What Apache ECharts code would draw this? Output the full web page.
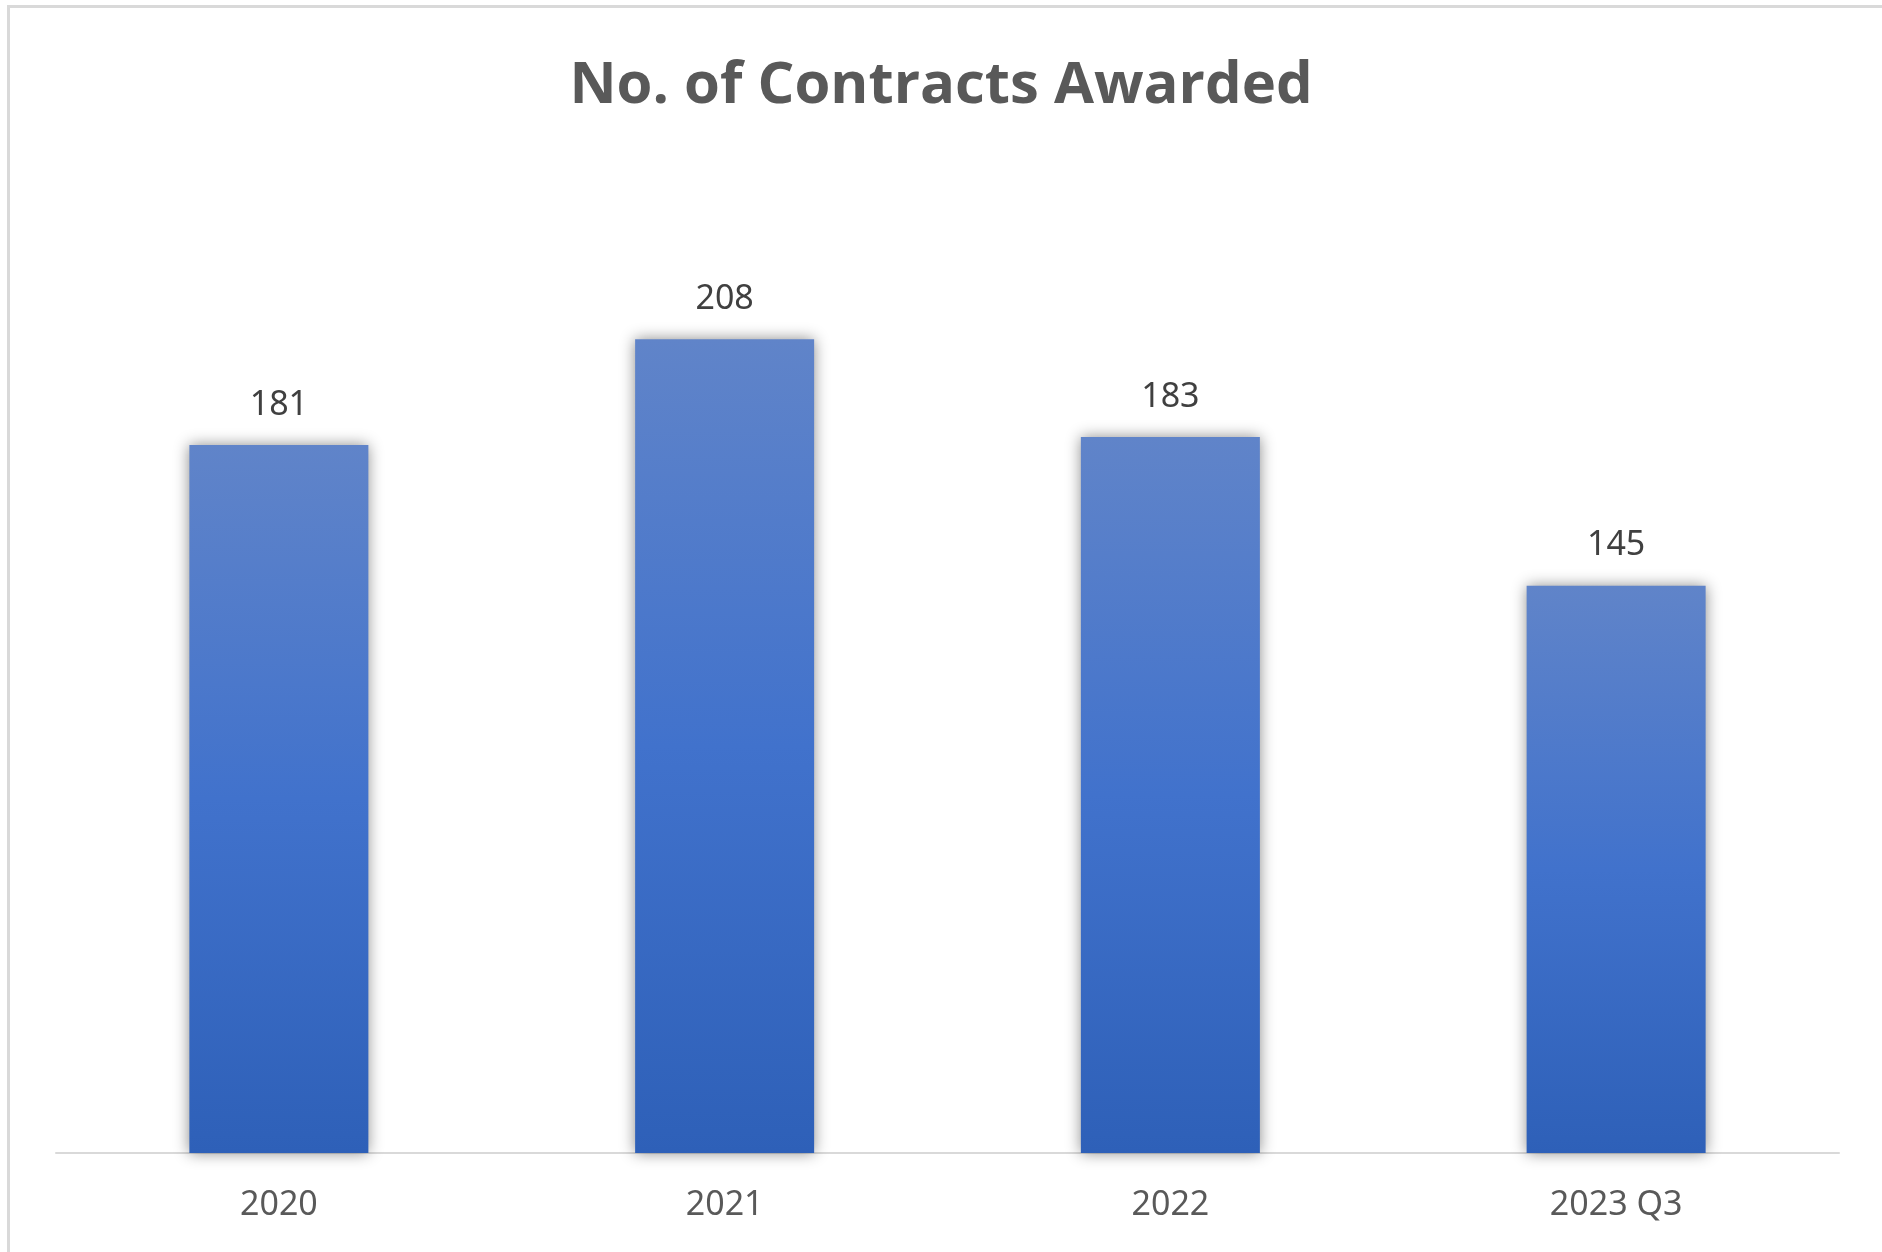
<!DOCTYPE html>
<html>
<head>
<meta charset="utf-8">
<script src="https://cdn.jsdelivr.net/npm/echarts@6/dist/echarts.min.js"></script>
<style>
html,body{margin:0;padding:0;background:#fff;}
#chart{width:1882px;height:1252px;}
</style>
</head>
<body>
<div id="chart"></div>
<script>
const categories = ['2020', '2021', '2022', '2023 Q3'];
const contracts = [181, 208, 183, 145];
const titleText = 'No. of Contracts Awarded';

const chart = echarts.init(document.getElementById('chart'), null, {renderer: 'canvas'});
chart.setOption({
  backgroundColor: '#ffffff',
  animation: false,
  title: {
    text: titleText,
    left: 'center',
    top: 52,
    textStyle: {fontFamily: 'Open Sans', fontWeight: 'bold', fontSize: 58, color: '#595959'}
  },
  graphic: [
    {type: 'rect', shape: {x: 7, y: 5, width: 1875, height: 3}, style: {fill: '#d9d9d9'}},
    {type: 'rect', shape: {x: 7, y: 5, width: 3, height: 1247}, style: {fill: '#d9d9d9'}}
  ],
  grid: {left: 56, right: 43, top: 175, bottom: 99, containLabel: false},
  xAxis: {
    type: 'category',
    data: categories,
    axisLine: {lineStyle: {color: '#d9d9d9', width: 2}},
    axisTick: {show: false},
    axisLabel: {fontFamily: 'Noto Sans', fontSize: 34, color: '#595959', margin: 35}
  },
  yAxis: {
    type: 'value',
    min: 0,
    max: 250,
    show: false,
    splitLine: {show: false}
  },
  series: [{
    type: 'bar',
    data: contracts,
    barWidth: 179,
    itemStyle: {
      color: new echarts.graphic.LinearGradient(0, 0, 0, 1, [
        {offset: 0, color: '#6084c9'},
        {offset: 0.5, color: '#4172cc'},
        {offset: 1, color: '#2e60b8'}
      ]),
      shadowBlur: 14,
      shadowColor: 'rgba(0,0,0,0.45)',
      shadowOffsetX: 0,
      shadowOffsetY: 0
    },
    label: {
      show: true,
      position: 'top',
      distance: 23,
      fontFamily: 'Noto Sans',
      fontSize: 34,
      color: '#404040'
    }
  }]
});
</script>
</body>
</html>
